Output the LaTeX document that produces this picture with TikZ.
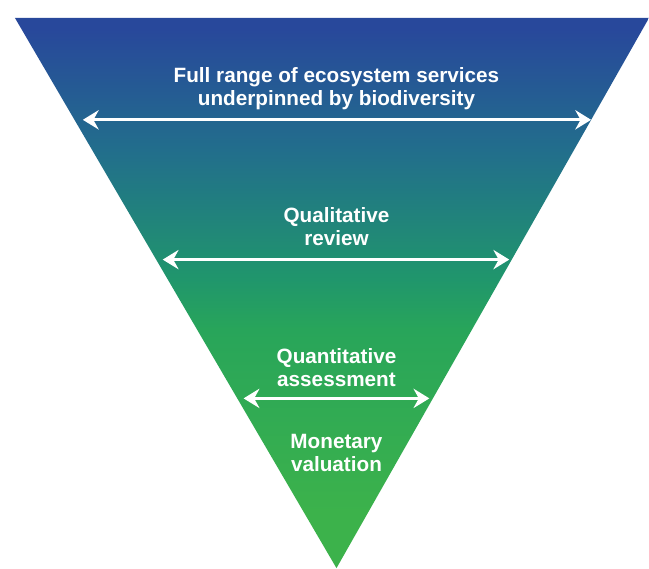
\documentclass[tikz,border=0pt]{standalone}
\usepackage{fontspec}
\setmainfont{Liberation Sans}
\usetikzlibrary{arrows.meta}
\definecolor{topblue}{RGB}{40,72,155}
\definecolor{blueteal}{RGB}{34,110,140}
\definecolor{midteal}{RGB}{32,150,108}
\definecolor{tealgreen}{RGB}{40,165,90}
\definecolor{lowgreen}{RGB}{60,178,75}
\pgfdeclareverticalshading{funnel}{100bp}{color(0bp)=(lowgreen); color(30bp)=(lowgreen); color(46.7bp)=(tealgreen); color(51.3bp)=(midteal); color(63bp)=(blueteal); color(74bp)=(topblue); color(100bp)=(topblue)}
\tikzset{
  twoway/.style={white,line width=1.6pt,{Stealth[length=9pt,width=11pt,inset=3pt]}-{Stealth[length=9pt,width=11pt,inset=3pt]}},
  label/.style={text=white,font=\bfseries\fontsize{11.8}{13.2}\selectfont,align=center}
}
\begin{document}
\begin{tikzpicture}[x=0.02cm,y=-0.02cm]

\fill[white] (0,0) rectangle (649,569); % Canvas

\shade[shading=funnel] (15,18) -- (650,18) -- (337,569) -- cycle; % Inverted triangle

% Widest band
\node[label] (full) at (337,89) {Full range of ecosystem services\\underpinned by biodiversity};
\coordinate (fullL) at (83,120);
\coordinate (fullR) at (592,120);
\draw[twoway] (fullL) -- (fullR);

% Second band
\node[label] (qual) at (337,227) {Qualitative\\review};
\coordinate (qualL) at (163,260);
\coordinate (qualR) at (510,260);
\draw[twoway] (qualL) -- (qualR);

% Third band
\node[label] (quant) at (337,368) {Quantitative\\assessment};
\coordinate (quantL) at (244,399);
\coordinate (quantR) at (430,399);
\draw[twoway] (quantL) -- (quantR);

% Tip
\node[label] (money) at (337,454) {Monetary\\valuation};

\end{tikzpicture}
\end{document}
